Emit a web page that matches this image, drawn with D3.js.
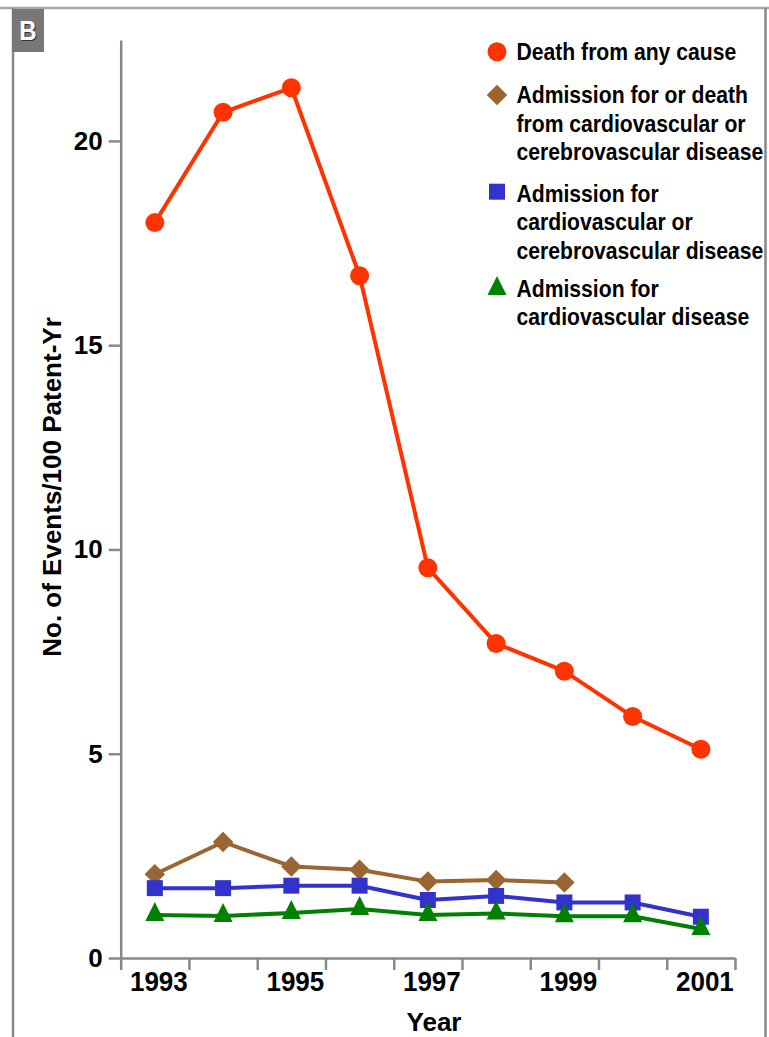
<!DOCTYPE html>
<html>
<head>
<meta charset="utf-8">
<script src="https://cdn.jsdelivr.net/npm/d3@7/dist/d3.min.js"></script>
<style>
  html, body { margin: 0; padding: 0; background: #fff; }
  svg { display: block; }
  text { font-family: "Liberation Sans", Arial, Helvetica, sans-serif; font-weight: bold; }
</style>
</head>
<body>
<script>
// ---- data ----
const years = ["1993","1994","1995","1996","1997","1998","1999","2000","2001"];
const deathAnyCause = [18.0, 20.7, 21.3, 16.7, 9.55, 7.7, 7.02, 5.91, 5.11];
const admitOrDeathCVorCerebro = [2.05, 2.84, 2.24, 2.16, 1.87, 1.91, 1.85, null, null];
const admitCVorCerebro = [1.71, 1.71, 1.77, 1.77, 1.42, 1.52, 1.36, 1.36, 1.01];
const admitCV = [1.05, 1.03, 1.10, 1.20, 1.05, 1.09, 1.02, 1.02, 0.71];
const yTickValues = [0, 5, 10, 15, 20];
const xTickLabels = ["1993", "1995", "1997", "1999", "2001"];
const legendLabels = [
  ["Death from any cause"],
  ["Admission for or death", "from cardiovascular or", "cerebrovascular disease"],
  ["Admission for", "cardiovascular or", "cerebrovascular disease"],
  ["Admission for", "cardiovascular disease"]
];

const W = 769, H = 1037;
const svg = d3.select("body").append("svg").attr("width", W).attr("height", H);

// frame
svg.append("line").attr("x1", 0).attr("x2", W).attr("y1", 8).attr("y2", 8)
  .attr("stroke", "#a8a8a8").attr("stroke-width", 2.5);
svg.append("line").attr("x1", 13).attr("x2", 13).attr("y1", 8).attr("y2", H)
  .attr("stroke", "#888").attr("stroke-width", 2.5);
svg.append("line").attr("x1", 765.5).attr("x2", 765.5).attr("y1", 8).attr("y2", H)
  .attr("stroke", "#888").attr("stroke-width", 2.5);

// "B" panel label
svg.append("rect").attr("x", 12).attr("y", 9).attr("width", 32).attr("height", 43).attr("fill", "#777");
svg.append("text").attr("transform", "translate(29,41) scale(1,1.12)").attr("text-anchor", "middle")
  .attr("font-size", 24).attr("fill", "#333").text("B");
svg.append("text").attr("transform", "translate(28,40) scale(1,1.12)").attr("text-anchor", "middle")
  .attr("font-size", 24).attr("fill", "#fff").text("B");

// scales
const x = d3.scaleBand().domain(years).range([120.7, 735]);
const xEdge = d3.scaleLinear().domain([0, years.length]).range([120.7, 735]);
const y = d3.scaleLinear().domain([0, 22.47]).range([958, 40]);
const cx = d => x(d) + x.bandwidth() / 2;

// axes
const yAxis = svg.append("g").attr("transform", "translate(120.7,0)")
  .call(d3.axisLeft(y).tickValues(yTickValues).tickSize(12).tickSizeOuter(0).tickPadding(6));
yAxis.select(".domain").attr("stroke", "#888").attr("stroke-width", 2.5);
yAxis.selectAll(".tick line").attr("stroke", "#888").attr("stroke-width", 2.5);
yAxis.selectAll(".tick text").attr("font-size", 26).attr("fill", "#000")
  .attr("font-family", "Liberation Sans, Arial, sans-serif").attr("font-weight", "bold");

const xAxis = svg.append("g").attr("transform", "translate(0,958)")
  .call(d3.axisBottom(xEdge).tickValues(d3.range(years.length + 1)).tickSize(12).tickSizeOuter(0).tickFormat(""));
xAxis.select(".domain").attr("stroke", "#888").attr("stroke-width", 2.5);
xAxis.selectAll(".tick line").attr("stroke", "#888").attr("stroke-width", 2.5);

svg.append("g").selectAll("text").data(xTickLabels).join("text")
  .attr("transform", d => `translate(${cx(d) + 4},991) scale(1,1.08)`).attr("text-anchor", "middle")
  .attr("font-size", 26).attr("fill", "#000").text(d => d);

svg.append("text").attr("x", 434).attr("y", 1031).attr("text-anchor", "middle")
  .attr("font-size", 26).attr("fill", "#000").text("Year");

svg.append("text").attr("transform", "translate(61,487) rotate(-90)").attr("text-anchor", "middle")
  .attr("font-size", 26).attr("fill", "#000").text("No. of Events/100 Patent-Yr");

// series
const series = [
  { vals: deathAnyCause, color: "#ff3300", shape: "circle" },
  { vals: admitOrDeathCVorCerebro, color: "#996633", shape: "diamond" },
  { vals: admitCVorCerebro, color: "#3333cc", shape: "square" },
  { vals: admitCV, color: "#008000", shape: "triangle" }
];
const symbolFor = {
  circle: d3.symbol().type(d3.symbolCircle).size(Math.PI * 9.5 * 9.5),
  diamond: d3.symbol().type(d3.symbolSquare).size(14.5 * 14.5),
  square: d3.symbol().type(d3.symbolSquare).size(16 * 16),
  triangle: () => "M0,-13L9.5,6L-9.5,6Z"
};
const rot = s => s === "diamond" ? " rotate(45)" : "";

const line = d3.line().defined(d => d.v != null).x(d => cx(d.year)).y(d => y(d.v));

series.forEach(s => {
  const pts = years.map((yr, i) => ({ year: yr, v: s.vals[i] }));
  const g = svg.append("g");
  g.append("path").datum(pts).attr("d", line).attr("fill", "none")
    .attr("stroke", s.color).attr("stroke-width", 4).attr("stroke-linejoin", "round");
  g.selectAll("path.m").data(pts.filter(d => d.v != null)).join("path").attr("class", "m")
    .attr("d", symbolFor[s.shape])
    .attr("transform", d => `translate(${cx(d.year)},${y(d.v)})${rot(s.shape)}`)
    .attr("fill", s.color);
});

// legend
const legend = svg.append("g");
const legendMarkerY = [51.7, 95, 191.7, 289];
const legendBaselines = [60, 103.3, 201.7, 296.7];
series.forEach((s, i) => {
  legend.append("path").attr("d", symbolFor[s.shape])
    .attr("transform", `translate(497,${legendMarkerY[i]})${rot(s.shape)}`)
    .attr("fill", s.color);
  legendLabels[i].forEach((t, j) => {
    legend.append("text")
      .attr("transform", `translate(516.5,${legendBaselines[i] + j * 28.4}) scale(0.9,1)`)
      .attr("font-size", 23.5).attr("fill", "#000").text(t);
  });
});
</script>
</body>
</html>
